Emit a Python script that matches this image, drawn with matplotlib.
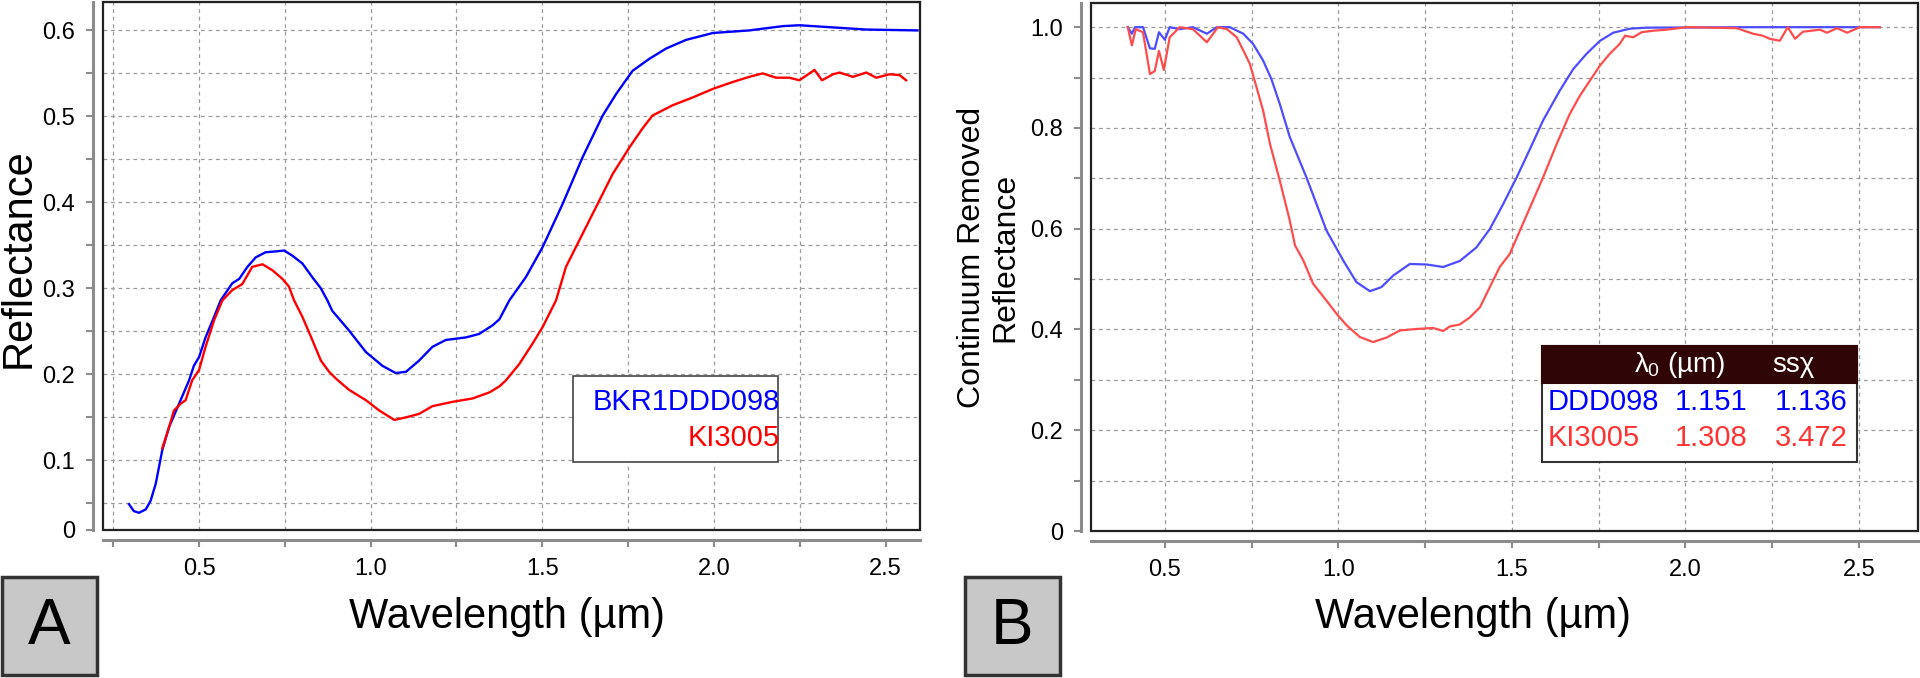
import matplotlib
matplotlib.use('Agg')
import matplotlib.pyplot as plt
from matplotlib.patches import Rectangle
from matplotlib.ticker import MultipleLocator, FixedLocator

plt.rcParams['font.family'] = ['Liberation Sans', 'DejaVu Sans']
plt.rcParams['mathtext.fontset'] = 'custom'
plt.rcParams['mathtext.rm'] = 'Liberation Sans'
plt.rcParams['mathtext.it'] = 'Liberation Sans'

# ---------------- data ----------------
# Panel A: reflectance
wlA_blue = [0.296, 0.310, 0.325, 0.345, 0.359, 0.374, 0.393, 0.413, 0.442, 0.471,
            0.485, 0.500, 0.519, 0.544, 0.563, 0.597, 0.617, 0.641, 0.665, 0.694,
            0.724, 0.748, 0.772, 0.801, 0.830, 0.855, 0.874, 0.888, 0.937, 0.986,
            1.034, 1.073, 1.103, 1.141, 1.180, 1.219, 1.278, 1.316, 1.355, 1.375,
            1.404, 1.452, 1.501, 1.559, 1.618, 1.676, 1.715, 1.763, 1.812, 1.861,
            1.919, 1.997, 2.103, 2.201, 2.249, 2.327, 2.444, 2.593]
refA_blue = [0.049, 0.041, 0.039, 0.043, 0.053, 0.073, 0.112, 0.139, 0.166, 0.193,
             0.210, 0.220, 0.243, 0.267, 0.286, 0.306, 0.311, 0.325, 0.336, 0.342,
             0.343, 0.344, 0.338, 0.329, 0.313, 0.300, 0.286, 0.274, 0.251, 0.226,
             0.210, 0.2015, 0.203, 0.216, 0.232, 0.240, 0.243, 0.247, 0.257, 0.264,
             0.286, 0.313, 0.348, 0.398, 0.453, 0.501, 0.526, 0.553, 0.567, 0.579,
             0.589, 0.597, 0.600, 0.605, 0.606, 0.604, 0.601, 0.600]
wlA_red = [0.393, 0.413, 0.427, 0.447, 0.461, 0.480, 0.500, 0.519, 0.544, 0.568,
           0.597, 0.626, 0.655, 0.685, 0.714, 0.743, 0.762, 0.777, 0.801, 0.830,
           0.855, 0.879, 0.899, 0.937, 0.986, 1.025, 1.069, 1.103, 1.141, 1.180,
           1.238, 1.297, 1.346, 1.375, 1.394, 1.433, 1.472, 1.501, 1.540, 1.569,
           1.608, 1.666, 1.705, 1.754, 1.792, 1.821, 1.880, 1.938, 1.997, 2.055,
           2.103, 2.142, 2.181, 2.220, 2.249, 2.293, 2.315, 2.347, 2.366, 2.405,
           2.444, 2.473, 2.512, 2.541, 2.560]
refA_red = [0.114, 0.139, 0.158, 0.166, 0.170, 0.193, 0.205, 0.232, 0.263, 0.286,
            0.298, 0.305, 0.325, 0.328, 0.321, 0.311, 0.302, 0.286, 0.267, 0.240,
            0.216, 0.203, 0.195, 0.182, 0.170, 0.158, 0.147, 0.150, 0.154, 0.163,
            0.168, 0.172, 0.179, 0.186, 0.193, 0.212, 0.236, 0.255, 0.286, 0.325,
            0.356, 0.402, 0.433, 0.464, 0.486, 0.501, 0.513, 0.522, 0.532, 0.540,
            0.546, 0.550, 0.545, 0.545, 0.542, 0.554, 0.542, 0.549, 0.551, 0.546,
            0.551, 0.545, 0.549, 0.548, 0.542]
legendA_labels = ['BKR1DDD098', 'KI3005']

# Panel B: continuum removed reflectance
wlB_blue = [0.393, 0.405, 0.414, 0.437, 0.457, 0.471, 0.483, 0.500, 0.514, 0.543,
            0.581, 0.621, 0.650, 0.687, 0.726, 0.754, 0.783, 0.807, 0.831, 0.860,
            0.908, 0.966, 1.014, 1.052, 1.091, 1.124, 1.158, 1.206, 1.254, 1.302,
            1.350, 1.398, 1.437, 1.475, 1.514, 1.552, 1.590, 1.638, 1.677, 1.715,
            1.754, 1.792, 1.840, 1.888, 2.200, 2.560]
crB_blue = [1.0, 0.987, 1.0, 1.0, 0.958, 0.957, 0.990, 0.975, 1.0, 0.996,
            1.0, 0.987, 1.0, 1.0, 0.987, 0.967, 0.934, 0.897, 0.848, 0.782,
            0.702, 0.596, 0.537, 0.494, 0.476, 0.484, 0.507, 0.530, 0.529, 0.524,
            0.536, 0.563, 0.600, 0.649, 0.702, 0.758, 0.815, 0.874, 0.917, 0.947,
            0.973, 0.989, 0.997, 0.999, 1.0, 1.0]
wlB_red = [0.393, 0.405, 0.416, 0.437, 0.457, 0.471, 0.483, 0.497, 0.514, 0.543,
           0.581, 0.621, 0.653, 0.679, 0.707, 0.726, 0.745, 0.764, 0.783, 0.803,
           0.831, 0.860, 0.875, 0.899, 0.927, 0.966, 0.995, 1.024, 1.062, 1.100,
           1.139, 1.177, 1.225, 1.273, 1.302, 1.321, 1.350, 1.379, 1.408, 1.427,
           1.465, 1.494, 1.523, 1.561, 1.590, 1.629, 1.667, 1.696, 1.725, 1.754,
           1.782, 1.811, 1.826, 1.850, 1.874, 1.908, 1.945, 2.004, 2.148, 2.195,
           2.223, 2.243, 2.272, 2.295, 2.316, 2.339, 2.388, 2.408, 2.437, 2.466,
           2.503, 2.560]
crB_red = [1.0, 0.964, 0.996, 0.990, 0.907, 0.913, 0.953, 0.915, 0.980, 1.0,
           0.996, 0.970, 1.0, 0.996, 0.980, 0.954, 0.927, 0.881, 0.835, 0.768,
           0.696, 0.616, 0.567, 0.537, 0.491, 0.457, 0.431, 0.408, 0.385, 0.375,
           0.384, 0.398, 0.401, 0.403, 0.397, 0.406, 0.410, 0.424, 0.444, 0.471,
           0.524, 0.550, 0.596, 0.656, 0.702, 0.768, 0.828, 0.864, 0.894, 0.924,
           0.947, 0.967, 0.983, 0.980, 0.990, 0.993, 0.995, 1.0, 0.998, 0.987,
           0.983, 0.977, 0.973, 1.0, 0.977, 0.991, 0.995, 0.989, 0.998, 0.989,
           1.0, 1.0]
table_samples = ['DDD098', 'KI3005']
table_lambda0 = ['1.151', '1.308']
table_ssx = ['1.136', '3.472']

xticks = [0.5, 1.0, 1.5, 2.0, 2.5]
xtick_labels = ['0.5', '1.0', '1.5', '2.0', '2.5']
yA_ticks = [0.019, 0.1, 0.2, 0.3, 0.4, 0.5, 0.6]
yA_labels = ['0', '0.1', '0.2', '0.3', '0.4', '0.5', '0.6']
yB_ticks = [0.0, 0.2, 0.4, 0.6, 0.8, 1.0]
yB_labels = ['0', '0.2', '0.4', '0.6', '0.8', '1.0']

# ---------------- figure ----------------
fig = plt.figure(figsize=(19.2, 6.78), dpi=100)
axA = fig.add_axes([0.0536, 0.2183, 0.4255, 0.7787])
axB = fig.add_axes([0.5682, 0.2168, 0.4307, 0.7788])

GRAY = '#8c8c8c'


def style(ax, xlim, ylim, yticks, ylabels, yminor):
    ax.set_xlim(xlim)
    ax.set_ylim(ylim)
    ax.xaxis.set_major_locator(FixedLocator(xticks))
    ax.set_xticklabels(xtick_labels)
    ax.xaxis.set_minor_locator(MultipleLocator(0.25))
    ax.yaxis.set_major_locator(FixedLocator(yticks))
    ax.set_yticklabels(ylabels)
    ax.yaxis.set_minor_locator(MultipleLocator(yminor))
    ax.grid(which='both', color='#9a9a9a', linestyle=(0, (3, 3)), lw=0.9)
    ax.set_axisbelow(True)
    for s in ['left', 'bottom']:
        ax.spines[s].set_position(('outward', 7))
        ax.spines[s].set_color(GRAY)
        ax.spines[s].set_linewidth(2.2)
    for s in ['top', 'right']:
        ax.spines[s].set_color('#555555')
        ax.spines[s].set_linewidth(1.5)
    ax.add_patch(Rectangle((0, 0), 1, 1, transform=ax.transAxes, fill=False,
                           edgecolor='#222222', lw=1.6, clip_on=False, zorder=6))
    ax.tick_params(which='both', direction='out', length=5, width=1.5,
                   color=GRAY, labelsize=17, pad=8, labelcolor='black')


style(axA, (0.22, 2.6), (0.019, 0.633), yA_ticks, yA_labels, 0.05)
style(axB, (0.287, 2.67), (0.0, 1.048), yB_ticks, yB_labels, 0.1)

axA.plot(wlA_blue, refA_blue, color='#0000ff', lw=1.7, zorder=3)
axA.plot(wlA_red, refA_red, color='#ff0000', lw=1.7, zorder=3)
axB.plot(wlB_blue, crB_blue, color='#4d4dff', lw=1.6, zorder=3)
axB.plot(wlB_red, crB_red, color='#ff4d4d', lw=1.6, zorder=3)

# legend box panel A
axA.add_patch(Rectangle((0.575, 0.129), 0.251, 0.163, transform=axA.transAxes,
                        facecolor='white', edgecolor='#444444', lw=1.2, zorder=7))
axA.text(0.8286, 0.242, legendA_labels[0], transform=axA.transAxes, color='#0000ff',
         fontsize=21, ha='right', va='center', zorder=8)
axA.text(0.8286, 0.174, legendA_labels[1], transform=axA.transAxes, color='#ff0000',
         fontsize=21, ha='right', va='center', zorder=8)

# table panel B
axB.add_patch(Rectangle((0.545, 0.131), 0.381, 0.219, transform=axB.transAxes,
                        facecolor='white', edgecolor='#333333', lw=1.5, zorder=7))
axB.add_patch(Rectangle((0.545, 0.280), 0.381, 0.070, transform=axB.transAxes,
                        facecolor='#300505', edgecolor='#300505', lw=1.5, zorder=8))
axB.text(0.712, 0.314, r'$\lambda_0$ (µm)', transform=axB.transAxes, color='white',
         fontsize=20, ha='center', va='center', zorder=9)
axB.text(0.849, 0.314, 'ssχ', transform=axB.transAxes, color='white',
         fontsize=20, ha='center', va='center', zorder=9)
row_colors = ['#0000ff', '#ff3333']
row_y = [0.244, 0.176]
for i in range(2):
    axB.text(0.552, row_y[i], table_samples[i], transform=axB.transAxes,
             color=row_colors[i], fontsize=21, ha='left', va='center', zorder=9)
    axB.text(0.794, row_y[i], table_lambda0[i], transform=axB.transAxes,
             color=row_colors[i], fontsize=21, ha='right', va='center', zorder=9)
    axB.text(0.915, row_y[i], table_ssx[i], transform=axB.transAxes,
             color=row_colors[i], fontsize=21, ha='right', va='center', zorder=9)

# axis labels
fig.text(0.0095, 0.62, 'Reflectance', rotation=90, fontsize=30,
         ha='center', va='center')
fig.text(0.264, 0.09, 'Wavelength (µm)', fontsize=30, ha='center', va='center')
fig.text(0.515, 0.62, 'Continuum Removed\nReflectance', rotation=90, fontsize=23,
         ha='center', va='center', linespacing=1.15)
fig.text(0.767, 0.09, 'Wavelength (µm)', fontsize=30, ha='center', va='center')

# panel letters
for x0, letter in [(0.001, 'A'), (0.5026, 'B')]:
    fig.patches.append(Rectangle((x0, 0.0044), 0.0494, 0.1446, transform=fig.transFigure,
                                 facecolor='#c8c8c8', edgecolor='#333333', lw=2.5))
    fig.text(x0 + 0.0247, 0.075, letter, fontsize=46, ha='center', va='center')

fig.savefig('out.png', dpi=100, facecolor='white')
